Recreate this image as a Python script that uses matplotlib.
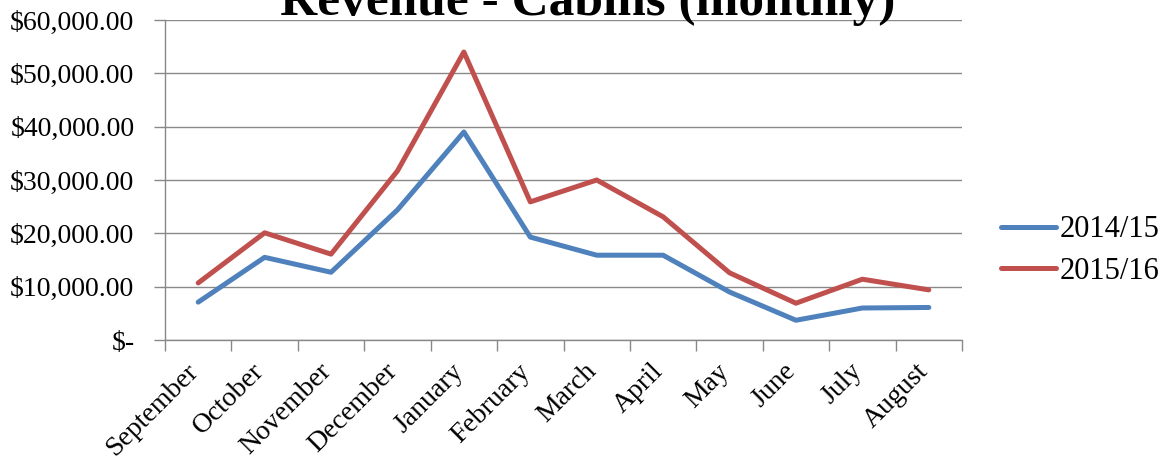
import matplotlib
matplotlib.use('agg')
import matplotlib.pyplot as plt
import matplotlib.transforms as mtransforms
import numpy as np
from matplotlib.ticker import FuncFormatter, MultipleLocator, FixedLocator

plt.rcParams['font.family'] = ['Liberation Serif', 'DejaVu Serif']

months = ['September', 'October', 'November', 'December', 'January', 'February',
          'March', 'April', 'May', 'June', 'July', 'August']
rev_1415 = [7100, 15500, 12700, 24400, 39000, 19300, 15900, 15900, 9000, 3700, 6000, 6100]
rev_1516 = [10700, 20100, 16100, 31700, 54000, 25900, 30000, 23100, 12600, 6900, 11400, 9400]
series_names = ['2014/15', '2015/16']
colors = ['#4F81BD', '#C0504D']

W, H = 1165, 466
fig = plt.figure(figsize=(W / 100, H / 100), dpi=100)
ax = fig.add_axes([165 / W, 1 - 340 / H, (962 - 165) / W, 320 / H])

x = np.arange(len(months))
for vals, name, c in zip([rev_1415, rev_1516], series_names, colors):
    ax.plot(x, vals, color=c, linewidth=3.6, label=name, solid_capstyle='round')

ax.set_xlim(-0.5, len(months) - 0.5)
ax.set_ylim(0, 60000)
ax.yaxis.set_major_locator(MultipleLocator(10000))

def money(v, pos):
    if v == 0:
        return '$-'
    return '${:,.2f}'.format(v)
ax.yaxis.set_major_formatter(FuncFormatter(money))

ax.set_xticks(x)
ax.set_xticklabels(months, rotation=45, ha='right', va='center', rotation_mode='anchor', fontsize=20)
ax.xaxis.set_minor_locator(FixedLocator(np.arange(-0.5, len(months), 1.0)))
ax.tick_params(axis='x', which='major', length=0, pad=20)
ax.tick_params(axis='x', which='minor', length=8, width=1, color='#898989', direction='out')
ax.tick_params(axis='y', length=8, width=1, color='#898989', direction='out', labelsize=20, pad=14)

# nudge rotated month names a little left so they end under the point
shift = mtransforms.ScaledTranslation(-0.04, 0, fig.dpi_scale_trans)
for lbl in ax.get_xticklabels():
    lbl.set_transform(lbl.get_transform() + shift)

ax.grid(axis='y', color='#898989', linewidth=1)
ax.set_axisbelow(True)
for s in ['top', 'right']:
    ax.spines[s].set_visible(False)
for s in ['left', 'bottom']:
    ax.spines[s].set_color('#898989')
    ax.spines[s].set_linewidth(1)

# title sits partly above the top edge, as in the original export
fig.text(588 / W, 1 - 15 / H, 'Revenue - Cabins (monthly)', ha='center', va='baseline',
         fontsize=37, fontweight='bold')

ax.legend(loc='center left', bbox_to_anchor=(1001 / W, 1 - 250.5 / H), bbox_transform=fig.transFigure,
          frameon=False, fontsize=22, borderpad=0, borderaxespad=0,
          handlelength=1.8, handletextpad=0.13, labelspacing=0.4)

fig.savefig('out.png', dpi=100)
